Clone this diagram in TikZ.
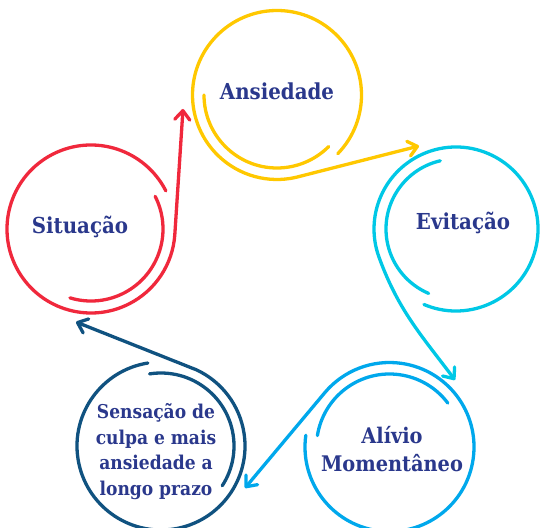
\documentclass[tikz,border=0pt]{standalone}
\usepackage{fontspec}
\setmainfont{DejaVu Serif Condensed}
\usetikzlibrary{arrows.meta}
\definecolor{cred}{RGB}{240,40,60}
\definecolor{cyel}{RGB}{255,200,0}
\definecolor{ccyan}{RGB}{0,200,230}
\definecolor{cblue}{RGB}{0,168,236}
\definecolor{cdark}{RGB}{16,82,128}
\definecolor{ctext}{RGB}{42,56,140}
\begin{document}
\begin{tikzpicture}[x=1pt,y=1pt,
  ring/.style={line width=3.3pt, line cap=round},
  flow/.style={ring, -{Straight Barb[length=9pt,width=15pt,round]}},
  lbl/.style={font=\bfseries\fontsize{22}{28}\selectfont, text=ctext, align=center},
  lblm/.style={font=\bfseries\fontsize{21.5}{28}\selectfont, text=ctext, align=center},
  lbls/.style={font=\bfseries\fontsize{19}{25.7}\selectfont, text=ctext, align=center}]
\clip (0,0) rectangle (540,527);
\useasboundingbox (0,0) rectangle (540,527);
\fill[white] (0,0) rectangle (540,527);
% circle centres and arrow tips
\coordinate (cS) at (91,298);
\coordinate (cA) at (277,432);
\coordinate (cE) at (456,298);
\coordinate (cM) at (389.5,80);
\coordinate (cC) at (161,81);
\coordinate (tS) at (183,418);
\coordinate (tA) at (419,381);
\coordinate (tE) at (455,147);
\coordinate (tM) at (245,39);
\coordinate (tC) at (76,205);
% labels
\node[lbl] (nA) at (277,436) {Ansiedade};
\node[lbl] (nS) at (80,300) {Situação};
\node[lbl] (nE) at (463,304) {Evitação};
\node[lblm] (nM) at (392,78) {Alívio\\Momentâneo};
\node[lbls] (nC) at (156,75.5) {Sensação de\\culpa e mais\\ansiedade a\\longo prazo};
% Situação (red)
\draw[ring, cred] (cS) ++(-107:72) arc[start angle=-107, end angle=27, radius=72];
\draw[flow, cred] (cS) ++(27:84) arc[start angle=27, end angle=356, radius=84] -- (tS);
% Ansiedade (yellow)
\draw[ring, cyel] (cA) ++(180:73) arc[start angle=180, end angle=315, radius=73];
\draw[flow, cyel] (cA) ++(316:84.5) arc[start angle=316, end angle=643, radius=84.5] -- (tA);
% Evitação (cyan)
\draw[ring, ccyan] (cE) ++(103:70) arc[start angle=103, end angle=247, radius=70];
\draw[flow, ccyan] (cE) ++(247:82) arc[start angle=247, end angle=560, radius=82] to[out=290, in=127] (tE);
% Alívio (blue)
\draw[ring, cblue] (cM) ++(37:73) arc[start angle=37, end angle=171, radius=73];
\draw[flow, cblue] (cM) ++(172:84.5) arc[start angle=172, end angle=500, radius=84.5] -- (tM);
% Sensação (dark blue)
\draw[ring, cdark] (cC) ++(-33:73) arc[start angle=-33, end angle=99, radius=73];
\draw[flow, cdark] (cC) ++(99:84) arc[start angle=99, end angle=425, radius=84] -- (tC);
\end{tikzpicture}
\end{document}
